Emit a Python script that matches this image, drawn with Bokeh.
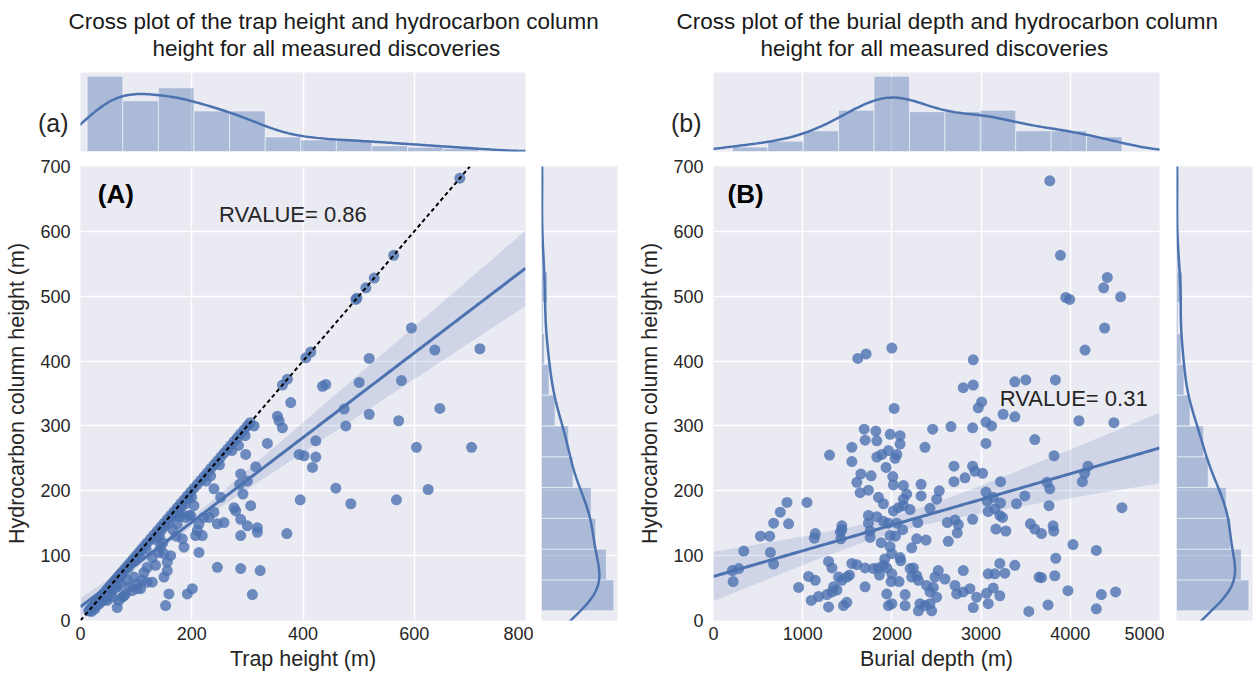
import numpy as np
from bokeh.plotting import figure
from bokeh.layouts import row, column
from bokeh.models import Range1d, FixedTicker, Grid, LinearAxis, Label, Slope, Title
from bokeh.embed import file_html
from bokeh.resources import INLINE

BLUE = "#4C72B0"
BG = "#EAEAF2"
INK = "#262626"
FONT = "Liberation Sans"

# ---------------- data: panel A (trap height vs HC column height) ----------------
# discoveries filled to spill point (HC column height equals trap height)
spill_traps = [15, 18, 21, 24, 27, 30, 33, 36, 39, 42, 45, 48, 51, 54, 57, 60, 63, 66, 69, 72,
               75, 80, 85, 90, 95, 100, 105, 110, 115, 120, 126, 132, 138, 144, 150, 156, 162, 168,
               174, 180, 186, 192, 198, 204, 210, 216, 222, 228, 234, 240, 246, 252, 258, 264, 270,
               276, 282, 288, 294, 300, 305, 363, 372, 405, 414, 495, 497, 513, 528, 563, 682]
# underfilled discoveries
trap_part = [20, 26, 30, 34, 38, 42, 45, 48, 52, 55,
             58, 62, 66, 66, 69, 72, 75, 78, 81, 84,
             88, 93, 96, 102, 102, 108, 111, 114, 120, 120,
             129, 129, 135, 138, 141, 144, 150, 150, 153, 156,
             156, 159, 162,
             16, 22, 28, 32, 35, 40, 44, 50, 54, 60,
             64, 70, 74, 78, 86, 98, 106, 118, 134, 142,
             146, 148, 152, 158, 164, 166, 170, 172, 176, 178,
             182, 188, 194, 200, 226, 250, 272, 284, 296, 312,
             174, 180, 183, 186, 189, 192, 195, 198, 201, 204,
             207, 210, 213, 213, 219, 222, 231, 234, 240, 240,
             246, 246, 252, 258, 276, 279, 286, 288, 288, 288,
             288, 292, 297, 300, 300, 306, 309, 315, 318, 318,
             323,
             336, 354, 357, 363, 371, 378, 393, 395, 402, 417,
             423, 423, 435, 441, 459, 474, 477, 486, 501, 519,
             519, 568, 572, 577, 595, 604, 625, 637, 646, 703,
             718]
hc_part = [14, 18, 24, 26, 30, 41, 33, 31, 40, 44,
           36, 50, 20, 52, 31, 56, 36, 38, 41, 62,
           52, 46, 67, 49, 56, 49, 62, 74, 59, 82,
           59, 97, 85, 128, 105, 113, 67, 103, 23, 77,
           90, 41, 100,
           15, 20, 27, 30, 33, 38, 42, 47, 52, 57,
           61, 66, 70, 74, 82, 92, 100, 110, 125, 130,
           140, 120, 146, 150, 160, 140, 165, 130, 170, 160,
           176, 180, 188, 190, 215, 240, 262, 270, 285, 300,
           149, 165, 126, 113, 159, 41, 162, 162, 49, 177,
           131, 139, 105, 149, 131, 159, 159, 223, 167, 203,
           82, 149, 190, 151, 174, 169, 210, 80, 131, 156,
           226, 195, 256, 146, 215, 177, 40, 237, 136, 143,
           77,
           273, 315, 308, 297, 134, 336, 256, 186, 254, 236,
           252, 277, 361, 364, 204, 326, 300, 180, 367, 318,
           404, 186, 308, 370, 451, 267, 202, 417, 327, 267,
           419]

# marginal histograms (counts per bin)
trap_hist_edges = [12, 76, 140, 204, 268, 332, 396, 460, 524, 588, 652, 716]
trap_hist_counts = [52, 35, 44, 28, 28, 10, 8, 8, 4, 3, 2]
hc_hist_edges = [15, 62.5, 110, 157.5, 205, 252.5, 300, 347.5, 395, 442.5, 490, 537.5, 585, 632.5, 680]
hc_hist_counts = [48, 43, 36, 33, 21, 18, 9, 5, 2, 1, 4, 1, 0, 1]

# ---------------- data: panel B (burial depth vs HC column height) ----------------
depth_m = [1618, 1711, 1999, 2025, 1689, 1820, 1980, 2092, 1700, 1831,
           2092, 1551, 1301, 1831, 1887, 1961, 2055, 2036, 1551, 1935,
           2371, 2457, 2662, 1652, 1767, 2010, 2017, 1607, 1644, 1737,
           2129, 2166, 2129, 1849, 1905, 2327, 2327, 2531, 2502, 2696,
           2696, 2819, 2017, 2073, 2129, 2204, 2427, 1737, 1831, 1905,
           1961, 2055, 1737, 1756, 1756, 1980, 1980, 1999, 2290, 2278,
           2383, 2222, 2632, 2621, 2707, 2744, 2733, 1439, 1439, 1428,
           1421, 1141, 1130, 1048, 824, 749, 674, 842, 526, 630,
           339, 638, 674, 212, 283, 220, 1290, 1328, 1551, 1607,
           1700, 1793, 1849, 1905, 1943, 2241, 2278, 2297, 1999, 1991,
           2092, 2099, 1066, 1141, 954, 1402, 1439, 1495, 1525, 1700,
           1346, 1384, 1272, 1328, 1096, 1178, 1290, 1458, 1495, 1943,
           1961, 1999, 2148, 2148, 2390, 2427, 2464, 2520, 2483, 2315,
           2371, 2427, 2446, 2297, 2502, 2595, 2707, 2726, 2800, 2800,
           2222, 2204,
           3770, 3889, 3949, 3993, 4415, 4374, 4564, 4385, 4165, 2912,
           3378, 3501, 3833, 2912, 2800, 3006, 2968, 3247, 3378, 3054,
           3117, 2905, 4097, 4489, 3054, 3602, 3818, 2905, 2931, 3017,
           4198, 4161, 4135, 3218, 3739, 3770, 3054, 3068, 3135, 3218,
           3154, 3080, 3210, 3240, 3397, 3490, 3762, 4579, 2905, 3166,
           3277, 3553, 3602, 3677, 3807, 3814, 4030, 4292, 3837, 3210,
           3378, 3080, 3154, 3266, 3650, 3677, 3826, 3974, 3535, 3751,
           4292, 4348, 4508, 2875, 2950, 3061, 3136, 3210, 2912, 3080,
           1880, 1920, 2040, 2080, 2120, 1860]
hc_b = [404, 411, 420, 327, 295, 292, 287, 285, 278, 277,
        272, 267, 255, 252, 256, 262, 256, 250, 245, 236,
        267, 295, 299, 226, 223, 222, 209, 213, 197, 201,
        208, 195, 187, 190, 180, 210, 192, 200, 187, 238,
        214, 220, 169, 174, 177, 171, 173, 162, 160, 153,
        150, 150, 150, 138, 128, 131, 114, 103, 151, 126,
        124, 112, 122, 151, 155, 148, 135, 146, 140, 126,
        136, 134, 127, 182, 182, 167, 150, 149, 130, 130,
        107, 105, 87, 77, 80, 60, 91, 81, 88, 86,
        81, 80, 81, 85, 81, 81, 69, 62, 72, 60,
        97, 92, 68, 62, 51, 67, 62, 67, 70, 52,
        52, 47, 40, 44, 31, 37, 21, 23, 28, 41,
        23, 26, 40, 23, 54, 44, 51, 77, 67, 26,
        23, 26, 15, 15, 36, 64, 54, 41, 44, 77,
        67, 80,
        678, 563, 498, 495, 529, 513, 499, 451, 417, 402,
        368, 371, 371, 363, 359, 337, 328, 318, 314, 306,
        300, 297, 308, 305, 273, 279, 254, 238, 230, 227,
        238, 227, 214, 214, 213, 203, 198, 184, 190, 181,
        172, 168, 162, 159, 180, 192, 177, 174, 156, 141,
        138, 149, 141, 134, 146, 138, 117, 108, 96, 88,
        85, 72, 72, 73, 67, 66, 69, 46, 14, 24,
        18, 40, 44, 49, 36, 42, 50, 38, 20, 26,
        120, 95, 130, 60, 140, 70]

depth_hist_edges = [212, 609, 1006, 1403, 1800, 2197, 2594, 2991, 3388, 3785, 4182, 4579]
depth_hist_counts = [3, 7, 14, 28, 51, 27, 27, 28, 14, 14, 10]
hc_hist_counts_b = [48, 43, 36, 33, 21, 18, 9, 5, 3, 1, 4, 1, 0, 1]

trap_ticks = [0, 200, 400, 600, 800]
depth_ticks = [0, 1000, 2000, 3000, 4000, 5000]
hc_ticks = [0, 100, 200, 300, 400, 500, 600, 700]
title_a = ["Cross plot of the trap height and hydrocarbon column", "height for all measured discoveries"]
title_b = ["Cross plot of the burial depth and hydrocarbon column", "height for all measured discoveries"]


# ---------------- helpers ----------------
def kde_curve(values):
    v = np.asarray(values, float)
    n = v.size
    sd = v.std(ddof=1)
    q75, q25 = np.percentile(v, [75, 25])
    a = min(sd, (q75 - q25) / 1.349)
    bw = 1.059 * a * n ** -0.2
    grid = np.linspace(v.min() - 3 * bw, v.max() + 3 * bw, 240)
    dens = np.exp(-0.5 * ((grid[:, None] - v[None, :]) / bw) ** 2).sum(1) / (n * bw * np.sqrt(2 * np.pi))
    return grid, dens


def hist_density(edges, counts):
    e = np.asarray(edges, float)
    c = np.asarray(counts, float)
    return e, c / (c.sum() * np.diff(e))


def reg_band(x, y, xs):
    x = np.asarray(x, float)
    y = np.asarray(y, float)
    n = x.size
    X = np.column_stack([np.ones(n), x])
    beta = np.linalg.lstsq(X, y, rcond=None)[0]
    res = y - X @ beta
    inv = np.linalg.inv(X.T @ X)
    meat = X.T @ (X * (res ** 2)[:, None])
    V = inv @ meat @ inv * n / (n - 2)
    Xs = np.column_stack([np.ones(xs.size), xs])
    fit = Xs @ beta
    se = np.sqrt(np.einsum("ij,jk,ik->i", Xs, V, Xs))
    return fit, fit - 1.96 * se, fit + 1.96 * se


def style_axis(ax, label_size="18px"):
    ax.axis_line_color = None
    ax.major_tick_line_color = None
    ax.minor_tick_line_color = None
    ax.major_tick_in = 0
    ax.major_tick_out = 0
    ax.minor_tick_in = 0
    ax.minor_tick_out = 0
    ax.major_label_text_font = FONT
    ax.major_label_text_font_size = label_size
    ax.major_label_text_color = INK
    ax.axis_label_text_font = FONT
    ax.axis_label_text_font_size = "21.5px"
    ax.axis_label_text_font_style = "normal"
    ax.axis_label_text_color = INK


def joint(xv, yv, xticks, x_end, xlabel, x_hist, y_hist, titles, title_offsets, letter, panel_tag,
          rtext, rpos, tag_x, lay):
    (lb, fw, rb_main, rb_top, mlb, mfw, mrb) = lay
    x_range = Range1d(0, x_end)
    y_range = Range1d(0, 700)

    # main scatter
    p = figure(frame_width=fw, frame_height=454, x_range=x_range, y_range=y_range,
               min_border_left=lb, min_border_right=rb_main, min_border_top=8, min_border_bottom=63,
               toolbar_location=None, tools="", output_backend="svg")
    p.background_fill_color = BG
    p.border_fill_color = "white"
    p.outline_line_color = None
    p.xaxis.ticker = FixedTicker(ticks=xticks)
    p.yaxis.ticker = FixedTicker(ticks=hc_ticks)
    style_axis(p.xaxis[0])
    style_axis(p.yaxis[0])
    p.xaxis.axis_label = xlabel
    p.yaxis.axis_label = "Hydrocarbon column height (m)"
    p.xaxis.major_label_standoff = 6
    p.xaxis.axis_label_standoff = 4
    p.yaxis.major_label_standoff = 10
    p.yaxis.axis_label_standoff = 8
    p.grid.grid_line_color = "white"
    p.grid.grid_line_width = 1.5

    xs = np.linspace(0, x_end, 120)
    fit, lo, hi = reg_band(xv, yv, xs)
    p.varea(x=xs, y1=lo, y2=hi, fill_color=BLUE, fill_alpha=0.17)
    p.scatter(xv, yv, size=11, fill_color=BLUE, fill_alpha=0.8, line_color=None)
    p.line(xs, fit, line_color=BLUE, line_width=3)
    if panel_tag == "A":
        p.add_layout(Slope(gradient=1, y_intercept=0, line_color="black", line_width=2, line_dash="4 3"))
    p.add_layout(Label(x=tag_x, y=657, text="(" + panel_tag + ")", text_font=FONT, text_font_size="26px",
                       text_font_style="bold", text_color="black", text_baseline="middle"))
    p.add_layout(Label(x=rpos[0], y=rpos[1], text=rtext, text_font=FONT, text_font_size="22px",
                       text_color=INK, text_baseline="middle"))

    # top marginal
    xe, xd = hist_density(*x_hist)
    xg, xk = kde_curve(xv)
    top_max = 1.05 * max(xd.max(), xk.max())
    t = figure(frame_width=fw, frame_height=79, x_range=x_range, y_range=Range1d(0, top_max),
               x_axis_type=None, y_axis_type=None,
               min_border_left=lb, min_border_right=rb_top, min_border_top=72, min_border_bottom=7,
               toolbar_location=None, tools="", output_backend="svg")
    t.background_fill_color = BG
    t.outline_line_color = None
    t.add_layout(Grid(dimension=0, ticker=FixedTicker(ticks=xticks), grid_line_color="white", grid_line_width=1.5))
    t.quad(left=xe[:-1], right=xe[1:], bottom=0, top=xd, fill_color=BLUE, fill_alpha=0.4,
           line_color="white", line_alpha=0.5, line_width=1)
    t.line(xg, xk, line_color=BLUE, line_width=2.5)
    yv_tag = round(0.367 * top_max, 9)
    tag_axis = LinearAxis(ticker=FixedTicker(ticks=[yv_tag]), major_label_overrides={yv_tag: letter})
    style_axis(tag_axis, label_size="25px")
    tag_axis.major_label_standoff = 12
    t.add_layout(tag_axis, "left")
    # spacer between the frame and the two-line title
    t.add_layout(Title(text=" ", text_font=FONT, text_font_size="9px", standoff=0), "above")
    t.add_layout(Title(text=titles[1], align="left", offset=title_offsets[1], text_font=FONT,
                       text_font_size="22.5px", text_font_style="normal", text_color="#1a1a1a", standoff=0), "above")
    t.add_layout(Title(text=titles[0], align="left", offset=title_offsets[0], text_font=FONT,
                       text_font_size="22.5px", text_font_style="normal", text_color="#1a1a1a", standoff=0), "above")

    # right marginal
    ye, yd = hist_density(*y_hist)
    yg, yk = kde_curve(yv)
    right_max = 1.05 * max(yd.max(), yk.max())
    r = figure(frame_width=mfw, frame_height=454, x_range=Range1d(0, right_max), y_range=y_range,
               x_axis_type=None, y_axis_type=None,
               min_border_left=mlb, min_border_right=mrb, min_border_top=8, min_border_bottom=63,
               toolbar_location=None, tools="", output_backend="svg")
    r.background_fill_color = BG
    r.outline_line_color = None
    r.add_layout(Grid(dimension=1, ticker=FixedTicker(ticks=hc_ticks), grid_line_color="white", grid_line_width=1.5))
    r.quad(left=0, right=yd, bottom=ye[:-1], top=ye[1:], fill_color=BLUE, fill_alpha=0.4,
           line_color="white", line_alpha=0.5, line_width=1)
    r.line(yk, yg, line_color=BLUE, line_width=2.5)

    return column(t, row(p, r))


trap_all = spill_traps + trap_part
hc_a = spill_traps + hc_part

left = joint(trap_all, hc_a, trap_ticks, 800, "Trap height (m)",
             (trap_hist_edges, trap_hist_counts), (hc_hist_edges, hc_hist_counts),
             title_a, (-12, 72), "(a)", "A", "RVALUE= 0.86", (249, 626), 31,
             (80, 445, 8, 105, 8, 76, 13))
right = joint(depth_m, hc_b, depth_ticks, 5000, "Burial depth (m)",
              (depth_hist_edges, depth_hist_counts), (hc_hist_edges, hc_hist_counts_b),
              title_b, (-37, 47), "(b)", "B", "RVALUE= 0.31", (3210, 343), 157,
              (83, 446, 5, 100, 12, 76, 7))

layout = row(left, right)
open("out.html", "w").write(file_html(layout, INLINE))
